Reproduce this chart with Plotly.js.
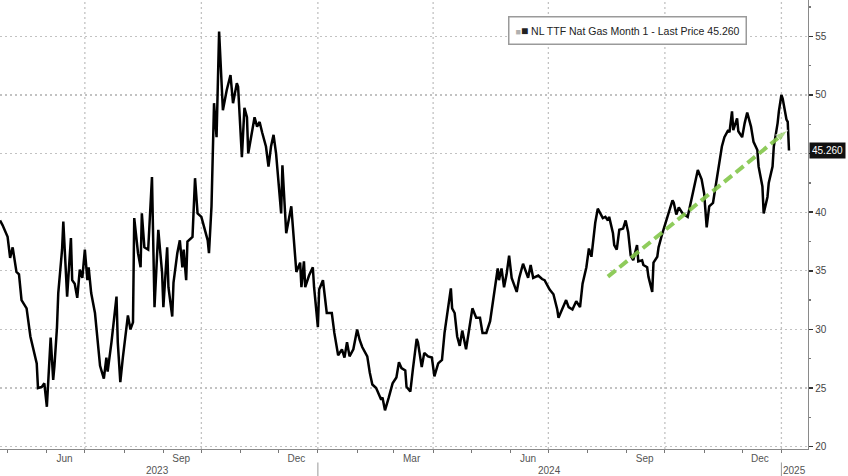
<!DOCTYPE html>
<html>
<head>
<meta charset="utf-8">
<script src="https://cdn.plot.ly/plotly-3.0.1.min.js"></script>
<style>html,body{margin:0;padding:0;background:#fff;}#chart{width:848px;height:476px;}</style>
</head>
<body>
<div id="chart"></div>
<script>
// ---- data ----
const priceDates = [
"2023-04-25","2023-04-27","2023-05-01","2023-05-03","2023-05-05","2023-05-08","2023-05-10","2023-05-12","2023-05-16","2023-05-18",
"2023-05-19","2023-05-24","2023-05-25","2023-05-28","2023-05-30","2023-06-01","2023-06-04","2023-06-06","2023-06-07","2023-06-09",
"2023-06-10","2023-06-13","2023-06-14","2023-06-17","2023-06-20","2023-06-21","2023-06-23","2023-06-25","2023-06-27","2023-06-29",
"2023-07-01","2023-07-03","2023-07-04","2023-07-06","2023-07-09","2023-07-13","2023-07-16","2023-07-18","2023-07-19","2023-07-22",
"2023-07-23","2023-07-26","2023-07-27","2023-07-29","2023-07-31","2023-08-04","2023-08-06","2023-08-08","2023-08-09","2023-08-12",
"2023-08-14","2023-08-15","2023-08-17","2023-08-20","2023-08-23","2023-08-25","2023-08-28","2023-08-31","2023-09-01","2023-09-04",
"2023-09-05","2023-09-08","2023-09-09","2023-09-12","2023-09-14","2023-09-16","2023-09-17","2023-09-19","2023-09-20","2023-09-24",
"2023-09-26","2023-09-28","2023-10-01","2023-10-04","2023-10-06","2023-10-07","2023-10-09","2023-10-11","2023-10-13","2023-10-15",
"2023-10-18","2023-10-21","2023-10-24","2023-10-26","2023-10-29","2023-10-30","2023-11-02","2023-11-04","2023-11-06","2023-11-07",
"2023-11-10","2023-11-12","2023-11-14","2023-11-16","2023-11-18","2023-11-21","2023-11-23","2023-11-25","2023-11-27","2023-11-29",
"2023-12-03","2023-12-04","2023-12-07","2023-12-11","2023-12-15","2023-12-18","2023-12-19","2023-12-21","2023-12-22","2023-12-25",
"2023-12-28","2023-12-29","2024-01-01","2024-01-02","2024-01-05","2024-01-08","2024-01-12","2024-01-14","2024-01-17","2024-01-20",
"2024-01-22","2024-01-24","2024-01-26","2024-01-29","2024-02-01","2024-02-03","2024-02-05","2024-02-09","2024-02-11","2024-02-13",
"2024-02-16","2024-02-20","2024-02-21","2024-02-23","2024-02-26","2024-02-29","2024-03-03","2024-03-05","2024-03-07","2024-03-10",
"2024-03-11","2024-03-14","2024-03-16","2024-03-19","2024-03-20","2024-03-23","2024-03-25","2024-03-28","2024-03-31","2024-04-02",
"2024-04-05","2024-04-08","2024-04-10","2024-04-12","2024-04-15","2024-04-16","2024-04-18","2024-04-20","2024-04-22","2024-04-24",
"2024-04-27","2024-04-30","2024-05-02","2024-05-05","2024-05-08","2024-05-10","2024-05-13","2024-05-16","2024-05-20","2024-05-22",
"2024-05-23","2024-05-25","2024-05-27","2024-05-29","2024-05-31","2024-06-02","2024-06-06","2024-06-08","2024-06-11","2024-06-15",
"2024-06-17","2024-06-19","2024-06-23","2024-06-26","2024-06-28","2024-07-02","2024-07-05","2024-07-08","2024-07-09","2024-07-12",
"2024-07-15","2024-07-17","2024-07-20","2024-07-23","2024-07-26","2024-07-28","2024-07-31","2024-08-02","2024-08-04","2024-08-07",
"2024-08-09","2024-08-11","2024-08-13","2024-08-15","2024-08-17","2024-08-18","2024-08-21","2024-08-22","2024-08-24","2024-08-26",
"2024-08-29","2024-08-31","2024-09-02","2024-09-04","2024-09-06","2024-09-09","2024-09-10","2024-09-13","2024-09-14","2024-09-17",
"2024-09-18","2024-09-21","2024-09-22","2024-09-25","2024-09-26","2024-09-29","2024-10-01","2024-10-03","2024-10-07","2024-10-08",
"2024-10-10","2024-10-12","2024-10-15","2024-10-19","2024-10-23","2024-10-27","2024-10-30","2024-11-01","2024-11-03","2024-11-05",
"2024-11-08","2024-11-11","2024-11-13","2024-11-15","2024-11-17","2024-11-20","2024-11-21","2024-11-23","2024-11-24","2024-11-27",
"2024-11-28","2024-12-01","2024-12-03","2024-12-05","2024-12-08","2024-12-10","2024-12-13","2024-12-14","2024-12-17","2024-12-18",
"2024-12-21","2024-12-22","2024-12-25","2024-12-26","2024-12-29","2024-12-30","2025-01-01","2025-01-02","2025-01-05","2025-01-06",
"2025-01-07"
];
const priceValues = [
39.3,38.9,37.9,36.1,37.0,34.9,34.7,32.5,31.8,30.0,
29.4,27.1,25.0,25.1,25.4,23.4,29.3,25.7,26.9,30.2,
33.1,36.8,39.2,32.8,37.8,34.2,33.9,32.7,35.1,34.4,
36.8,34.2,35.3,33.1,31.4,26.9,25.8,27.6,26.4,28.9,
30.0,32.8,28.9,25.5,27.6,31.2,30.0,30.6,39.5,36.5,
35.3,39.9,37.0,36.8,43.0,31.9,38.5,34.8,31.9,37.0,
33.6,31.1,34.0,36.5,37.6,35.3,36.8,34.2,37.5,37.9,
42.9,39.9,39.6,38.5,37.6,36.5,40.5,49.3,46.4,55.4,
48.7,50.4,51.7,49.3,51.0,50.7,44.7,48.9,48.1,45.0,
46.8,48.1,47.3,47.7,46.8,45.6,43.9,45.6,46.6,45.0,
39.9,44.0,38.2,40.5,34.9,35.7,33.6,35.8,33.6,34.6,
35.3,33.6,30.2,33.4,34.2,31.4,31.4,29.7,27.8,28.3,
27.6,28.9,27.7,28.3,30.0,29.1,28.5,27.7,26.3,25.3,
25.0,24.0,24.2,23.1,24.2,25.4,25.9,27.2,26.7,26.5,
25.1,24.7,26.6,29.2,28.9,26.8,28.0,27.7,27.6,26.0,
27.1,27.4,29.7,31.1,33.5,31.8,31.4,29.4,28.6,29.9,
28.3,30.4,31.8,31.0,31.0,29.7,29.7,30.7,33.6,35.2,
34.2,35.2,33.6,34.7,36.3,34.4,33.2,34.4,35.6,34.4,
35.5,34.4,34.6,34.3,34.2,33.4,33.0,31.7,31.0,31.8,
32.5,31.9,31.7,32.4,31.9,33.9,35.3,36.9,36.2,39.1,
40.3,39.9,39.5,39.6,39.3,39.6,38.2,37.2,36.8,38.5,
38.6,39.3,38.3,36.3,35.9,37.2,35.8,35.9,35.5,35.3,
34.5,33.2,35.7,36.2,37.0,38.2,38.9,39.5,41.0,40.8,
39.8,40.4,39.9,39.6,41.6,43.6,42.8,41.6,38.7,40.5,
40.8,42.8,43.9,45.6,46.4,47.0,46.8,48.6,47.0,48.0,
46.9,46.4,47.6,48.5,47.3,46.0,45.3,43.9,42.2,39.9,
41.3,42.5,43.9,45.6,47.6,48.6,50.0,49.7,47.9,47.7,
45.26
];
const trendDates = ["2024-08-17","2025-01-06"];
const trendValues = [34.5, 47.0];

const seriesName = "NL TTF Nat Gas Month 1 - Last Price";
const lastPrice = 45.26;

const monthLabelDates = ["2023-06-15","2023-09-15","2023-12-15","2024-03-15","2024-06-15","2024-09-15","2024-12-15"];
const monthLabels = ["Jun","Sep","Dec","Mar","Jun","Sep","Dec"];
const monthTickDates = ["2023-05-01","2023-06-01","2023-07-01","2023-08-01","2023-09-01","2023-10-01","2023-11-01","2023-12-01",
  "2024-01-01","2024-02-01","2024-03-01","2024-04-01","2024-05-01","2024-06-01","2024-07-01","2024-08-01","2024-09-01",
  "2024-10-01","2024-11-01","2024-12-01","2025-01-01"];
const quarterGridDates = ["2023-07-01","2023-10-01","2024-01-01","2024-04-01","2024-07-01","2024-10-01","2025-01-01"];
const yearLabels = ["2023","2024","2025"];
const yearLabelDates = ["2023-08-27","2024-07-02","2025-01-11"];
const yearSeparatorDates = ["2024-01-01","2025-01-01"];
const yTicks = [20,25,30,35,40,45,50,55];
// the 45 label sits hidden behind the last-price tag in the reference
const yTickText = ["20","25","30","35","40","","50","55"];

// ---- chart ----
const FONT = "Liberation Sans, Arial, sans-serif";
const GRID = "#c2c2c2";
const traces = [
  {
    x: priceDates, y: priceValues, type: "scatter", mode: "lines",
    line: {color: "#000000", width: 2.5}, name: seriesName, hoverinfo: "skip"
  },
  {
    x: trendDates, y: trendValues, type: "scatter", mode: "lines+markers",
    line: {color: "#83c64a", width: 4, dash: "10px,5px"},
    marker: {color: "#83c64a", size: [9, 13], symbol: ["circle", "arrow"], angleref: "previous"},
    opacity: 0.9, hoverinfo: "skip"
  }
];

const shapes = [];
quarterGridDates.forEach(d => shapes.push({
  type: "line", xref: "x", yref: "paper", x0: d, x1: d, y0: 0, y1: 1, layer: "below",
  line: {color: GRID, width: 1.3, dash: "2px,3px"}
}));
yearSeparatorDates.forEach(d => shapes.push({
  type: "line", xref: "x", yref: "paper", x0: d, x1: d, y0: -0.03, y1: -0.065,
  line: {color: "#999", width: 1}
}));

const annotations = [];
yearLabels.forEach((t, i) => annotations.push({
  text: t, x: yearLabelDates[i], xref: "x", y: -0.047, yref: "paper",
  xanchor: "center", yanchor: "middle", showarrow: false,
  font: {family: FONT, size: 10, color: "#555"}
}));
annotations.push({
  text: lastPrice.toFixed(3), x: 1, xref: "paper", y: lastPrice, yref: "y",
  xanchor: "left", yanchor: "middle", xshift: 1, showarrow: false,
  bgcolor: "#111111", borderpad: 2, font: {family: FONT, size: 10, color: "#ffffff"}
});
annotations.push({
  text: "<span style='color:#b0b0b0;font-size:9px'>■</span><span style='font-size:12px'>■</span> " + seriesName + " " + lastPrice.toFixed(3),
  x: 0.776, xref: "paper", y: 0.931, yref: "paper",
  xanchor: "center", yanchor: "middle", showarrow: false,
  bgcolor: "#ffffff", bordercolor: "#9a9a9a", borderwidth: 1.5, borderpad: 6,
  font: {family: FONT, size: 10.5, color: "#222"}
});

const layout = {
  width: 848, height: 476,
  margin: {l: 0, r: 40, t: 0, b: 27},
  paper_bgcolor: "#ffffff", plot_bgcolor: "#ffffff",
  showlegend: false,
  font: {family: FONT, size: 10, color: "#555"},
  xaxis: {
    type: "date", range: ["2023-04-25", "2025-01-22"],
    tickmode: "array", tickvals: monthLabelDates, ticktext: monthLabels,
    ticks: "", showgrid: false, zeroline: false,
    showline: true, linecolor: "#8a8a8a", linewidth: 1.2,
    tickfont: {family: FONT, size: 10, color: "#555"},
    minor: {tickmode: "array", tickvals: monthTickDates, ticks: "outside", ticklen: 3, tickcolor: "#777", showgrid: false},
    automargin: false, fixedrange: true
  },
  yaxis: {
    side: "right", range: [19.8, 58.1],
    tickmode: "array", tickvals: yTicks, ticktext: yTickText,
    ticks: "outside", ticklen: 4, tickwidth: 1.5, tickcolor: "#333",
    showgrid: true, gridcolor: GRID, gridwidth: 1.3, griddash: "2px,3px",
    zeroline: false, showline: true, linecolor: "#8a8a8a", linewidth: 1.2,
    tickfont: {family: FONT, size: 10, color: "#444"},
    minor: {dtick: 2.5, tick0: 20, ticks: "outside", ticklen: 2, tickcolor: "#777", showgrid: false},
    automargin: false, fixedrange: true
  },
  shapes: shapes,
  annotations: annotations
};

Plotly.newPlot("chart", traces, layout, {displayModeBar: false, staticPlot: true});
</script>
</body>
</html>
